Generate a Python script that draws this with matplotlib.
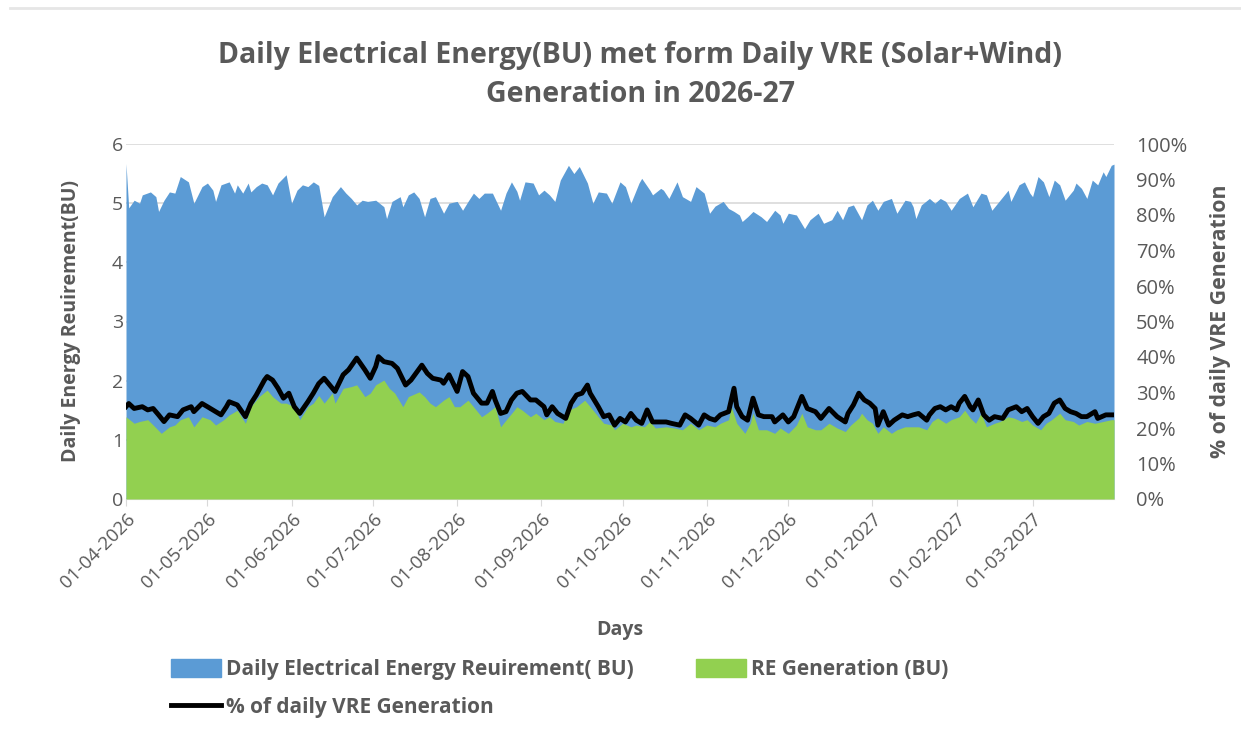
import matplotlib
matplotlib.use("Agg")
import matplotlib.pyplot as plt
import matplotlib.dates as mdates
import pandas as pd
import numpy as np
from matplotlib.patches import Patch
from matplotlib.lines import Line2D

# ---- data (day offset from 01-04-2026, value) ----
demand_points = [
    (0,5.67),(1,4.92),(3,5.05),(5,5.0),(6,5.14),(9,5.19),(11,5.11),(12,4.86),(14,5.05),(16,5.19),
    (18,5.17),(20,5.45),(23,5.36),(25,5.0),(28,5.28),(30,5.34),(32,5.22),(33,5.03),(35,5.31),(38,5.36),
    (40,5.17),(41,5.31),(43,5.17),(45,5.34),(46,5.19),(48,5.28),(50,5.34),(52,5.31),(54,5.14),(56,5.34),
    (59,5.48),(61,5.0),(63,5.22),(65,5.31),(67,5.28),(69,5.36),(71,5.3),(73,4.77),(76,5.11),(79,5.28),
    (81,5.17),(83,5.08),(85,4.97),(87,5.05),(89,5.03),(92,5.05),(95,4.94),(96,4.74),(98,5.03),(101,5.11),
    (102,4.94),(104,5.14),(106,5.19),(108,5.08),(110,4.77),(112,5.08),(114,5.11),(117,4.83),(119,5.0),
    (122,5.03),(124,4.88),(126,5.03),(128,5.17),(130,5.08),(132,5.17),(135,5.17),(138,4.88),(140,5.17),
    (142,5.36),(144,5.2),(145,5.05),(147,5.36),(150,5.34),(152,5.14),(154,5.22),(156,5.14),(158,5.03),
    (160,5.39),(163,5.64),(165,5.50),(167,5.62),(170,5.34),(172,5.0),(174,5.19),(177,5.17),(179,5.0),
    (182,5.36),(184,5.28),(186,5.0),(189,5.34),(190,5.42),(193,5.22),(194,5.14),(197,5.25),(198,5.22),
    (200,5.08),(203,5.36),(205,5.11),(208,5.03),(210,5.28),(213,5.17),(215,4.83),(217,4.95),(220,5.03),
    (222,4.91),(224,4.86),(226,4.80),(227,4.69),(229,4.77),(231,4.86),(234,4.77),(236,4.69),(239,4.88),
    (241,4.80),(242,4.66),(244,4.83),(247,4.80),(250,4.57),(252,4.72),(255,4.83),(257,4.66),(260,4.72),
    (262,4.88),(264,4.72),(266,4.94),(268,4.97),(271,4.72),(273,4.97),(275,5.05),(277,4.88),(279,5.03),
    (282,5.08),(284,4.83),(287,5.05),(289,5.03),(290,4.94),(291,4.74),(293,4.97),(296,5.08),(298,5.0),
    (300,5.08),(302,5.03),(304,4.88),(307,5.08),(310,5.17),(312,4.94),(315,5.17),(317,5.14),(319,4.88),
    (322,5.05),(325,5.22),(326,5.03),(329,5.31),(331,5.36),(333,5.17),(334,5.11),(336,5.45),(338,5.36),
    (340,5.11),(342,5.39),(344,5.31),(346,5.05),(349,5.22),(350,5.34),(352,5.25),(354,5.08),(356,5.39),
    (358,5.31),(360,5.53),(361,5.45),(363,5.64),(364,5.66),
]

re_points = [
    (0,1.39),(3,1.28),(5,1.31),(8,1.34),(10,1.25),(13,1.11),(16,1.22),(18,1.25),(20,1.34),(23,1.39),
    (25,1.22),(28,1.39),(31,1.34),(33,1.25),(36,1.34),(38,1.42),(41,1.50),(44,1.28),(46,1.56),(49,1.73),
    (52,1.84),(54,1.73),(57,1.62),(59,1.62),(62,1.56),(64,1.34),(67,1.56),(69,1.62),(71,1.75),(73,1.62),
    (76,1.79),(77,1.62),(80,1.87),(83,1.90),(85,1.93),(88,1.73),(90,1.79),(92,1.93),(95,2.01),(97,1.87),
    (99,1.79),(102,1.56),(104,1.73),(108,1.81),(110,1.73),(112,1.62),(114,1.56),(117,1.67),(119,1.73),
    (121,1.56),(123,1.56),(126,1.67),(128,1.56),(131,1.39),(133,1.45),(136,1.56),(138,1.22),(141,1.39),
    (143,1.50),(144,1.56),(146,1.50),(149,1.39),(151,1.45),(154,1.34),(156,1.39),(158,1.31),(161,1.28),
    (163,1.50),(166,1.56),(169,1.67),(171,1.56),(174,1.39),(176,1.28),(179,1.25),(180,1.17),(183,1.28),
    (186,1.22),(188,1.25),(191,1.22),(193,1.31),(195,1.20),(199,1.22),(202,1.20),(205,1.17),(208,1.28),
    (211,1.17),(214,1.25),(217,1.22),(219,1.28),(222,1.34),(223,1.56),(225,1.28),(228,1.11),(230,1.28),
    (231,1.45),(233,1.17),(236,1.17),(239,1.11),(241,1.20),(244,1.11),(247,1.25),(249,1.45),(251,1.22),
    (254,1.17),(256,1.17),(259,1.28),(262,1.20),(265,1.14),(267,1.25),(270,1.37),(271,1.45),(273,1.34),
    (275,1.28),(277,1.11),(279,1.22),(282,1.11),(284,1.17),(287,1.22),(290,1.22),(292,1.22),(295,1.17),
    (297,1.31),(299,1.37),(302,1.28),(304,1.34),(307,1.39),(309,1.50),(311,1.37),(313,1.28),(315,1.45),
    (317,1.22),(320,1.28),(322,1.31),(325,1.39),(327,1.37),(330,1.31),(332,1.34),(334,1.25),(337,1.17),
    (339,1.28),(341,1.34),(344,1.45),(346,1.34),(349,1.31),(351,1.25),(354,1.31),(357,1.28),(360,1.31),
    (363,1.34),(364,1.34),
]

pct_points = [
    (0,26.0),(1,26.9),(3,25.5),(6,26.0),(8,25.1),(10,25.5),(12,23.7),(14,21.8),(16,23.7),(19,23.2),
    (21,25.1),(24,26.0),(25,24.6),(28,26.9),(30,26.0),(33,24.6),(35,23.7),(37,26.0),(38,27.4),(41,26.5),
    (44,23.2),(46,26.9),(48,29.3),(51,33.5),(52,34.5),(54,33.5),(56,31.2),(58,28.4),(60,29.8),(62,26.0),
    (64,24.1),(67,27.4),(69,29.8),(71,32.5),(73,34.0),(76,31.2),(77,30.3),(80,35.0),(82,36.4),(85,39.7),
    (88,36.4),(90,34.0),(92,37.3),(93,40.1),(95,38.7),(98,38.2),(100,36.8),(103,32.1),(105,33.5),
    (109,37.7),(111,35.4),(113,34.0),(116,33.5),(117,32.6),(119,35.0),(122,30.3),(124,35.9),(126,34.5),
    (128,29.8),(131,27.0),(133,27.0),(135,30.3),(136,27.9),(138,24.1),(140,24.6),(142,27.9),(144,29.8),
    (146,30.3),(149,27.9),(151,27.9),(154,26.0),(155,23.7),(157,26.0),(159,24.1),(162,22.7),(164,27.0),
    (166,29.3),(168,29.8),(170,32.1),(171,29.8),(174,26.0),(176,23.2),(178,23.7),(180,20.8),(182,22.7),
    (184,21.7),(186,24.1),(188,22.2),(190,21.3),(192,25.1),(194,21.7),(197,21.7),(199,21.7),(201,21.3),
    (204,20.8),(206,23.7),(208,22.7),(211,20.8),(213,23.7),(215,22.7),(217,22.2),(219,23.7),(222,24.6),
    (224,31.2),(225,26.0),(227,23.2),(229,22.2),(231,28.4),(233,23.7),(235,23.2),(238,23.2),(239,21.7),
    (242,23.7),(244,21.7),(246,23.2),(249,28.9),(251,25.5),(254,24.6),(256,22.7),(259,25.5),(262,23.2),
    (265,21.7),(266,24.1),(268,26.5),(270,29.8),(272,27.9),(274,27.0),(276,25.5),(277,20.8),(279,24.6),
    (281,20.8),(283,22.2),(286,23.7),(288,23.2),(290,23.7),(292,24.1),(295,22.2),(296,23.7),(298,25.5),
    (300,26.0),(302,25.1),(304,26.0),(306,25.1),(307,27.0),(309,28.9),(311,26.0),(312,25.1),(314,27.9),
    (316,23.7),(318,22.2),(320,23.2),(323,22.7),(325,25.1),(328,26.0),(330,24.6),(332,25.5),(334,23.2),
    (336,21.3),(338,23.2),(340,24.1),(342,27.0),(344,27.9),(346,25.5),(348,24.6),(350,24.1),(352,23.2),
    (354,23.2),(357,24.6),(358,22.7),(361,23.7),(363,23.7),(364,23.7),
]

start_date = "2026-04-01"
end_date = "2027-03-31"
month_ticks = pd.date_range("2026-04-01", "2027-03-01", freq="MS")

title = "Daily Electrical Energy(BU) met form Daily VRE (Solar+Wind)\nGeneration in 2026-27"
left_label = "Daily Energy Reuirement(BU)"
right_label = "% of daily VRE Generation"
x_label = "Days"
legend_labels = ["Daily Electrical Energy Reuirement( BU)", "RE Generation (BU)", "% of daily VRE Generation"]

# ---- plotting ----
BLUE = "#5B9BD5"
GREEN = "#92D050"
GRAY = "#595959"
FONT = "Open Sans"

def to_series(points):
    d = pd.Timestamp(start_date) + pd.to_timedelta([p[0] for p in points], unit="D")
    v = np.array([p[1] for p in points])
    return d, v

dem_x, dem_y = to_series(demand_points)
re_x, re_y = to_series(re_points)
pct_x, pct_y = to_series(pct_points)

fig = plt.figure(figsize=(12.41, 7.31), dpi=100)
ax = fig.add_axes([126/1241, 1-499/731, (1114-126)/1241, (499-144)/731])

ax.set_axisbelow(True)
ax.yaxis.grid(True, color="#D9D9D9", linewidth=1.2, zorder=0)
ax.fill_between(dem_x, 0, dem_y, color=BLUE, linewidth=0, zorder=2)
ax.fill_between(re_x, 0, re_y, color=GREEN, linewidth=0, zorder=3)

ax.set_ylim(0, 6)
ax.set_yticks(range(0, 7))
ax.set_xlim(pd.Timestamp(start_date), pd.Timestamp(end_date))
ax.set_xticks(month_ticks)
ax.xaxis.set_major_formatter(mdates.DateFormatter("%d-%m-%Y"))
ax.tick_params(axis="x", colors=GRAY, labelsize=13.5, length=5, color="#D9D9D9", pad=3)
ax.tick_params(axis="y", colors=GRAY, labelsize=14, length=0, pad=2)
for lab in ax.get_xticklabels():
    lab.set_rotation(45)
    lab.set_ha("right")
    lab.set_rotation_mode("anchor")
for s in ["top", "right", "left"]:
    ax.spines[s].set_visible(False)
ax.spines["bottom"].set_color("#D9D9D9")
for lab in ax.get_xticklabels() + ax.get_yticklabels():
    lab.set_fontfamily(FONT)

ax.set_ylabel(left_label, fontsize=14, fontweight="bold", color=GRAY, family=FONT, labelpad=22)
ax.set_xlabel(x_label, fontsize=14, fontweight="bold", color=GRAY, family=FONT, labelpad=20)

ax2 = ax.twinx()
ax2.plot(pct_x, pct_y, color="black", linewidth=3.5, zorder=5, solid_joinstyle="round")
ax2.set_ylim(0, 100)
ax2.set_yticks(range(0, 101, 10))
ax2.set_yticklabels([f"{v}%" for v in range(0, 101, 10)], family=FONT)
ax2.tick_params(axis="y", colors=GRAY, labelsize=14.5, length=0, pad=16)
for s in ax2.spines.values():
    s.set_visible(False)
ax2.set_ylabel(right_label, fontsize=15.3, fontweight="bold", color=GRAY, family=FONT, labelpad=16)

fig.text(0.516, 1-75/731, title, ha="center", va="center", fontsize=20.5, fontweight="bold",
         color=GRAY, family=FONT, linespacing=1.5)

handles = [Patch(color=BLUE), Line2D([0], [0], color="black", linewidth=3.5), Patch(color=GREEN)]
labels = [legend_labels[0], legend_labels[2], legend_labels[1]]
leg = fig.legend(handles, labels, ncol=2, loc="upper left", bbox_to_anchor=(152/1241, 1-640/731),
                 frameon=False, handlelength=2.4, handleheight=1.0, columnspacing=3.0, labelspacing=0.8,
                 handletextpad=0.25, prop={"family": FONT, "size": 15, "weight": "bold"})
for t in leg.get_texts():
    t.set_color(GRAY)

fig.add_artist(Line2D([10/1241, 1], [1-8/731, 1-8/731], color="#E6E6E6", linewidth=2))

fig.savefig("out.png", dpi=100)
